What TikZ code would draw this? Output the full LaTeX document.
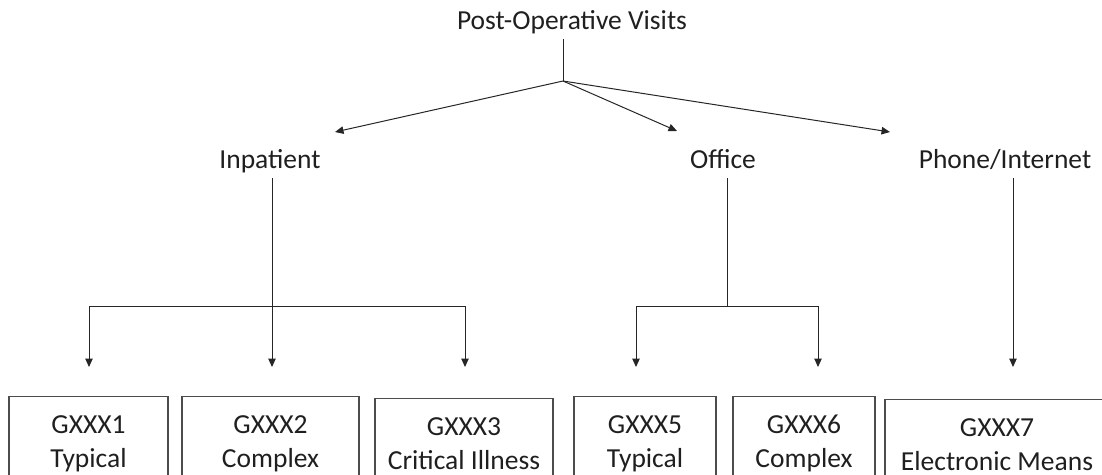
\documentclass[tikz,border=0pt]{standalone}
\usepackage{fontspec}
\setmainfont{Carlito}
\usetikzlibrary{arrows.meta}
\newcommand{\botstrut}{\rule[-6pt]{0pt}{6pt}}
\begin{document}
\begin{tikzpicture}[x=1pt,y=-1pt,
  lbl/.style={font=\fontsize{27.5}{34}\selectfont, text=black!88, inner sep=4.5pt, text height=18pt, text depth=5.3pt, anchor=base},
  box/.style={draw=black!70, line width=1.1pt, font=\fontsize{27.5}{34}\selectfont, text=black!88, align=center, inner sep=0pt, minimum height=90.2pt, anchor=north},
  ln/.style={draw=black!85, line width=1pt},
  arr/.style={ln, -{Triangle[length=8.5pt,width=7.5pt]}},
  arrs/.style={ln, {Triangle[length=8.5pt,width=7.5pt]}-{Triangle[length=8.5pt,width=7.5pt]}}]
\useasboundingbox (0,0) rectangle (1102,474);
\clip (0,0) rectangle (1102,474);
% top level
\node[lbl] (t) at (572,29) {Post-Operative Visits};
\coordinate (j) at (563,81);
\draw[ln] (t.south -| j) -- (j);
\coordinate (ti) at (335,132);
\coordinate (to) at (677,131);
\coordinate (tp) at (890,132);
\draw[arr] (j) -- (ti);
\draw[arr] (j) -- (to);
\draw[arr] (j) -- (tp);
% middle level
\node[lbl] (ip) at (270,168) {Inpatient};
\node[lbl] (of) at (723,168) {Office};
\node[lbl] (ph) at (1005,168) {Phone/Internet};
\coordinate (lev) at (0,367);
% inpatient branches
\coordinate (bi) at (272,306);
\coordinate (bil) at (89,306);
\coordinate (bir) at (465,306);
\draw[arr] (ip.south -| bi) -- (bi |- lev);
\draw[arrs] (bil |- lev) -- (bil) -- (bir) -- (bir |- lev);
% office branches
\coordinate (bo) at (727,306);
\coordinate (bol) at (636,306);
\coordinate (bor) at (818,306);
\draw[ln] (of.south -| bo) -- (bo);
\draw[arrs] (bol |- lev) -- (bol) -- (bor) -- (bor |- lev);
% phone branch
\coordinate (bp) at (1013,306);
\draw[arr] (ph.south -| bp) -- (bp |- lev);
% boxes
\node[box, minimum width=159pt] (b1) at (88.5,396) {\strut GXXX1\\Typical\botstrut};
\node[box, minimum width=177pt] (b2) at (270.5,396) {\strut GXXX2\\Complex\botstrut};
\node[box, minimum width=178pt] (b3) at (464,397.5) {\strut GXXX3\\Critical Illness\botstrut};
\node[box, minimum width=142pt] (b5) at (645,396) {\strut GXXX5\\Typical\botstrut};
\node[box, minimum width=142pt] (b6) at (804,396) {\strut GXXX6\\Complex\botstrut};
\node[box, minimum width=224pt] (b7) at (997,399) {\strut GXXX7\\Electronic Means\botstrut};
\end{tikzpicture}
\end{document}
